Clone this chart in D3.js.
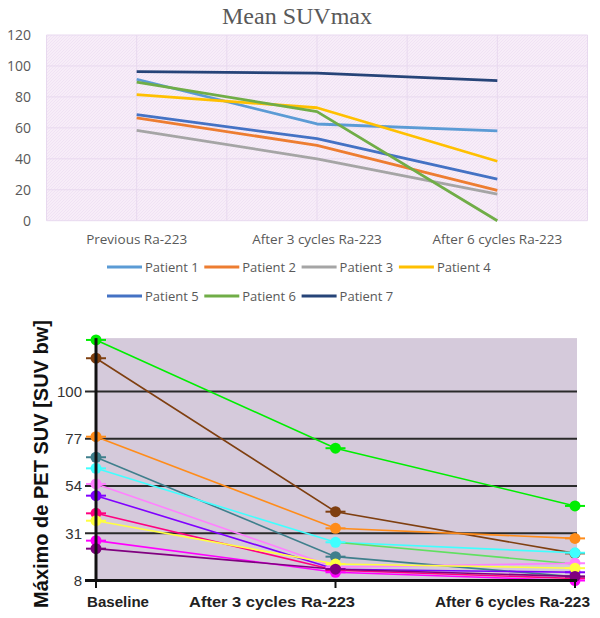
<!DOCTYPE html>
<html><head><meta charset="utf-8">
<script src="https://cdn.jsdelivr.net/npm/d3@7"></script>
<style>body{margin:0;background:#fff}svg{display:block}</style>
</head><body>
<svg id="c" width="600" height="618"></svg>
<script>
// ---- Top chart data ----
const topCategories = ["Previous Ra-223", "After 3 cycles Ra-223", "After 6 cycles Ra-223"];
const topTicks = [0, 20, 40, 60, 80, 100, 120];
const topPatients = ["Patient 1", "Patient 2", "Patient 3", "Patient 4", "Patient 5", "Patient 6", "Patient 7"];
const topColors = ["#5b9bd5", "#ed7d31", "#a5a5a5", "#ffc000", "#4472c4", "#70ad47", "#264478"];
const patient1 = [91.4, 62.5, 58.0];
const patient2 = [66.4, 48.7, 19.6];
const patient3 = [58.4, 40.0, 17.1];
const patient4 = [81.5, 73.0, 38.4];
const patient5 = [68.5, 53.0, 26.8];
const patient6 = [89.5, 70.5, 0.0];
const patient7 = [96.3, 95.3, 90.5];
const topSeries = [patient1, patient2, patient3, patient4, patient5, patient6, patient7];

// ---- Bottom chart data ----
const bottomCategories = ["Baseline", "After 3 cycles Ra-223", "After 6 cycles Ra-223"];
const bottomTicks = [8, 31, 54, 77, 100];
const bottomColors = ["#00ee00", "#7f3f10", "#ff8c1a", "#3f7f8c", "#40ffff", "#60e060", "#ff80ff", "#8000ff", "#ff0080", "#ffff40", "#ff00ff", "#800080"];
const sGreen      = [125.1, 72.4, 44.3];
const sBrown      = [116.2, 41.5, 21.2];
const sOrange     = [78.0, 33.4, 28.5];
const sTeal       = [68.0, 19.6, 9.8];
const sCyan       = [62.6, 26.6, 21.5];
const sLightGreen = [null, 26.6, 16.0];
const sLightPink  = [55.0, 14.5, 16.4];
const sPurple     = [49.3, 13.5, 12.0];
const sRose       = [40.7, 13.0, 9.0];
const sYellow     = [37.1, 16.0, 14.0];
const sMagenta    = [27.4, 12.0, 8.0];
const sDarkPurple = [23.5, 13.5, 10.0];
const bottomSeries = [sGreen, sBrown, sOrange, sTeal, sCyan, sLightGreen, sLightPink, sPurple, sRose, sYellow, sMagenta, sDarkPurple];

const svg = d3.select("#c");

// ================= TOP CHART =================
const defs = svg.append("defs");
const pat = defs.append("pattern").attr("id", "hatch").attr("patternUnits", "userSpaceOnUse")
  .attr("width", 3).attr("height", 3);
pat.append("rect").attr("width", 3).attr("height", 3).attr("fill", "#f7edf8");
pat.append("path").attr("d", "M0,3 L3,0").attr("stroke", "#efdff2").attr("stroke-width", 0.8);

const tx = d3.scaleBand().domain(topCategories).range([46.5, 587.5]);
const ty = d3.scaleLinear().domain([0, 120]).range([220.7, 35]);
const tcx = c => tx(c) + tx.bandwidth() / 2;

svg.append("rect").attr("x", 46.5).attr("y", ty(120)).attr("width", 541).attr("height", ty(0) - ty(120))
  .attr("fill", "url(#hatch)");

const tg = svg.append("g");
tg.selectAll("line.h").data(topTicks).join("line")
  .attr("x1", 46.5).attr("x2", 587.5).attr("y1", d => ty(d)).attr("y2", d => ty(d))
  .attr("stroke", "#e8d9ef").attr("stroke-width", 1);
const vlines = [];
topCategories.forEach(c => { vlines.push(tx(c)); vlines.push(tcx(c)); });
vlines.push(587.5);
tg.selectAll("line.v").data(vlines).join("line")
  .attr("x1", d => d).attr("x2", d => d).attr("y1", ty(120)).attr("y2", ty(0))
  .attr("stroke", "#e8d9ef").attr("stroke-width", 1);

svg.append("text").attr("x", 297).attr("y", 23.5).attr("text-anchor", "middle")
  .attr("textLength", 150).attr("lengthAdjust", "spacingAndGlyphs")
  .attr("font-family", "Liberation Serif, serif").attr("font-size", 23).attr("fill", "#595959")
  .text("Mean SUVmax");

svg.append("g").selectAll("text").data(topTicks).join("text")
  .attr("x", 31).attr("y", d => ty(d)).attr("dy", "0.35em").attr("text-anchor", "end")
  .attr("font-family", "Open Sans, sans-serif").attr("font-size", 14).attr("fill", "#595959")
  .text(d => d);

svg.append("g").selectAll("text").data(topCategories).join("text")
  .attr("x", d => tcx(d)).attr("y", 243.5).attr("text-anchor", "middle")
  .attr("font-family", "Open Sans, sans-serif").attr("font-size", 13.5).attr("fill", "#595959")
  .text(d => d);

const tline = d3.line().x((d, i) => tcx(topCategories[i])).y(d => ty(d));
svg.append("g").selectAll("path").data(topSeries).join("path")
  .attr("d", d => tline(d)).attr("fill", "none")
  .attr("stroke", (d, i) => topColors[i]).attr("stroke-width", 2.8).attr("stroke-linejoin", "round");

// legend
const legendPos = [[107, 267], [204.3, 267], [301.6, 267], [398.9, 267], [107, 296], [204.3, 296], [301.6, 296]];
const lg = svg.append("g").selectAll("g").data(topPatients).join("g")
  .attr("transform", (d, i) => `translate(${legendPos[i][0]},${legendPos[i][1]})`);
lg.append("line").attr("x1", 0).attr("x2", 35).attr("y1", 0).attr("y2", 0)
  .attr("stroke", (d, i) => topColors[i]).attr("stroke-width", 2.8);
lg.append("text").attr("x", 38).attr("y", 0).attr("dy", "0.35em")
  .attr("font-family", "Open Sans, sans-serif").attr("font-size", 13).attr("fill", "#595959")
  .text(d => d);

// ================= BOTTOM CHART =================
const bx = d3.scalePoint().domain(bottomCategories).range([96, 575]);
const by = d3.scaleLinear().domain([8, 126]).range([580.5, 338.1]);

svg.append("rect").attr("x", 96).attr("y", by(126)).attr("width", 481).attr("height", by(8) - by(126))
  .attr("fill", "#d5cadb");

svg.append("g").selectAll("line").data(bottomTicks.filter(d => d > 8)).join("line")
  .attr("x1", 85).attr("x2", 577).attr("y1", d => by(d)).attr("y2", d => by(d))
  .attr("stroke", "#2a2a2a").attr("stroke-width", 2);

const bline = d3.line().defined(d => d !== null).x((d, i) => bx(bottomCategories[i])).y(d => by(d));
const bs = svg.append("g").selectAll("g").data(bottomSeries).join("g");
bs.append("path").attr("d", d => bline(d)).attr("fill", "none")
  .attr("stroke", (d, i) => bottomColors[i]).attr("stroke-width", 1.6);

// markers
const pts = [];
bottomSeries.forEach((s, i) => s.forEach((v, j) => { if (v !== null && i !== 5) pts.push({ v, j, c: bottomColors[i] }); }));
const mk = svg.append("g").selectAll("g").data(pts).join("g")
  .attr("transform", d => `translate(${bx(bottomCategories[d.j])},${by(d.v)})`);
mk.append("line").attr("x1", -10).attr("x2", 10).attr("y1", 0).attr("y2", 0)
  .attr("stroke", d => d.c).attr("stroke-width", 2);
mk.append("circle").attr("r", 5.5).attr("fill", d => d.c);

// axes lines
svg.append("line").attr("x1", 96).attr("x2", 96).attr("y1", by(126)).attr("y2", 582)
  .attr("stroke", "#111").attr("stroke-width", 3);
svg.append("line").attr("x1", 85).attr("x2", 577).attr("y1", by(8)).attr("y2", by(8))
  .attr("stroke", "#111").attr("stroke-width", 3);
svg.append("g").selectAll("line").data(bottomCategories).join("line")
  .attr("x1", d => bx(d)).attr("x2", d => bx(d)).attr("y1", 581).attr("y2", 588)
  .attr("stroke", "#111").attr("stroke-width", 2);

svg.append("g").selectAll("text").data(bottomTicks).join("text")
  .attr("x", 82).attr("y", d => by(d)).attr("dy", "0.35em").attr("text-anchor", "end")
  .attr("font-family", "Liberation Sans, Arial, sans-serif").attr("font-size", 15).attr("fill", "#333")
  .text(d => d);

const bLabelX = [87, 189, 435];
const bLabelW = [62, 166, 155];
svg.append("g").selectAll("text").data(bottomCategories).join("text")
  .attr("x", (d, i) => bLabelX[i]).attr("y", 607)
  .attr("textLength", (d, i) => bLabelW[i]).attr("lengthAdjust", "spacingAndGlyphs")
  .attr("font-family", "Liberation Sans, Arial, sans-serif").attr("font-weight", "bold")
  .attr("font-size", 14.5).attr("fill", "#222")
  .text(d => d);

svg.append("text").attr("transform", "translate(48,464) rotate(-90)").attr("text-anchor", "middle")
  .attr("font-family", "Liberation Sans, Arial, sans-serif").attr("font-weight", "bold")
  .attr("font-size", 20).attr("fill", "#111")
  .text("Máximo de PET SUV [SUV bw]");
</script>
</body></html>
